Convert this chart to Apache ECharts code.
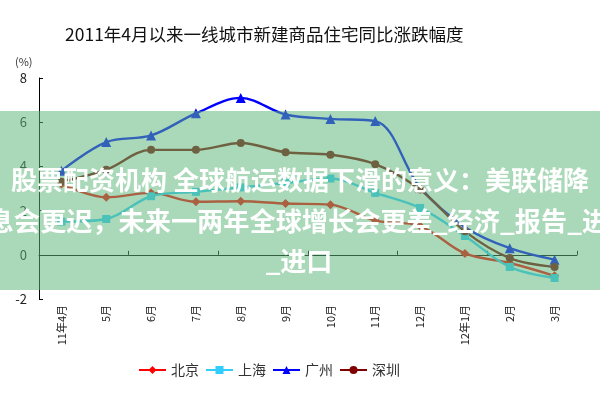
<!DOCTYPE html>
<html>
<head>
<meta charset="utf-8">
<script src="https://cdn.jsdelivr.net/npm/echarts@6/dist/echarts.min.js"></script>
<style>
html,body{margin:0;padding:0;background:#fff;}
#c{width:600px;height:400px;}
</style>
</head>
<body>
<div id="c"></div>
<script>
var categories = ['11年4月','5月','6月','7月','8月','9月','10月','11月','12月','12年1月','2月','3月'];
var beijing  = [3.2, 2.6, 2.8, 2.4, 2.42, 2.32, 2.27, 1.55, 1.3, 0.06, -0.37, -0.95];
var shanghai = [1.5, 1.62, 2.65, 2.85, 3.05, 3.25, 3.45, 2.8, 2.12, 0.85, -0.55, -1.05];
var guangzhou = [3.8, 5.1, 5.4, 6.4, 7.1, 6.35, 6.15, 6.05, 3.05, 1.25, 0.3, -0.22];
var shenzhen = [3.3, 3.85, 4.75, 4.75, 5.06, 4.64, 4.53, 4.1, 2.95, 1.06, -0.15, -0.55];
var seriesNames = ['北京','上海','广州','深圳'];
var yTicks = {min: -2, max: 8, interval: 2};
var titleText = '2011年4月以来一线城市新建商品住宅同比涨跌幅度';
var unitText = '(%)';
var overlayLines = ['股票配资机构 全球航运数据下滑的意义：美联储降', '息会更迟，未来一两年全球增长会更差_经济_报告_进口', '_进口'];

var FF = '"Noto Sans CJK SC", "Noto Sans", sans-serif';
var chart = echarts.init(document.getElementById('c'), null, {renderer: 'canvas'});

function mk(name, data, color, symbol, size) {
  return {
    name: name, type: 'line', data: data, xAxisIndex: 0,
    smooth: 0.35, symbol: symbol, symbolSize: size,
    lineStyle: {color: color, width: 2.4},
    itemStyle: {color: color},
    emphasis: {disabled: true},
    z: 3
  };
}

chart.setOption({
  animation: false,
  textStyle: {fontFamily: FF},
  title: {
    text: titleText, left: 60, top: 21,
    textStyle: {fontSize: 17.5, fontWeight: 'normal', color: '#111', fontFamily: FF}
  },
  legend: {
    data: seriesNames, left: 133, top: 358,
    itemWidth: 27, itemHeight: 10, itemGap: 6,
    textStyle: {fontSize: 14, color: '#333', fontFamily: FF}
  },
  grid: {left: 39, right: 23, top: 78, bottom: 101, containLabel: false},
  xAxis: [{
    type: 'category', data: categories, boundaryGap: true,
    axisLine: {onZero: true, lineStyle: {color: '#000', width: 1}},
    axisTick: {show: true, inside: true, length: 4, lineStyle: {color: '#000'}},
    axisLabel: {show: false},
    splitLine: {show: false}
  }, {
    type: 'category', data: categories, boundaryGap: true, position: 'bottom',
    axisLine: {show: false, onZero: false},
    axisTick: {show: false},
    axisLabel: {show: true, rotate: 90, fontSize: 11, margin: 6, color: '#222', fontFamily: FF},
    splitLine: {show: false}
  }],
  yAxis: {
    type: 'value', min: yTicks.min, max: yTicks.max, interval: yTicks.interval,
    axisLine: {show: true, lineStyle: {color: '#000', width: 1}},
    axisTick: {show: true, inside: true, length: 4, lineStyle: {color: '#000'}},
    axisLabel: {fontSize: 13, color: '#222', margin: 12, fontFamily: FF},
    splitLine: {show: false}
  },
  series: [
    mk(seriesNames[0], beijing, '#ff0000', 'diamond', 9),
    mk(seriesNames[1], shanghai, '#33ccff', 'rect', 8),
    mk(seriesNames[2], guangzhou, '#0000ff', 'triangle', 10),
    mk(seriesNames[3], shenzhen, '#800000', 'circle', 8)
  ],
  graphic: [
    {type: 'text', left: 15, top: 56, style: {text: unitText, fontSize: 11, fill: '#333', fontFamily: FF}},
    {type: 'rect', shape: {x: 0, y: 111, width: 600, height: 179}, style: {fill: 'rgba(94,183,123,0.53)'}, z: 100, silent: true},
    {type: 'text', x: 300, y: 180, z: 101, silent: true,
     style: {text: overlayLines[0], fill: '#fff', fontSize: 26, fontWeight: 'bold', fontFamily: FF, align: 'center', verticalAlign: 'middle'}},
    {type: 'text', x: 311, y: 221, z: 101, silent: true,
     style: {text: overlayLines[1], fill: '#fff', fontSize: 26.2, fontWeight: 'bold', fontFamily: FF, align: 'center', verticalAlign: 'middle'}},
    {type: 'text', x: 299, y: 261, z: 101, silent: true,
     style: {text: overlayLines[2], fill: '#fff', fontSize: 26, fontWeight: 'bold', fontFamily: FF, align: 'center', verticalAlign: 'middle'}}
  ]
});
</script>
</body>
</html>
